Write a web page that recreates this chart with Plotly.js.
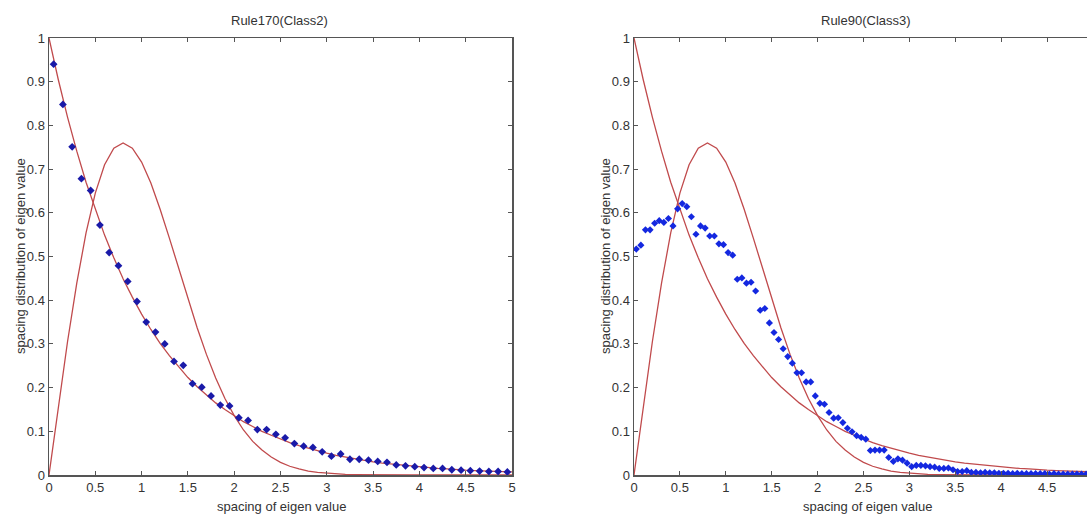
<!DOCTYPE html>
<html>
<head>
<meta charset="utf-8">
<script src="https://cdn.plot.ly/plotly-3.0.1.min.js"></script>
<style>
html,body{margin:0;padding:0;overflow:hidden;background:#fff;}
#chart{width:1100px;height:514px;}
</style>
</head>
<body>
<div id="chart"></div>
<script>
// ---- data ----
const panelTitles = ["Rule170(Class2)", "Rule90(Class3)"];
const xAxisTitle = "spacing of eigen value";
const yAxisTitle = "spacing distribution of eigen value";
const xTickVals = [0,0.5,1,1.5,2,2.5,3,3.5,4,4.5,5];
const xTickValsRight = [0,0.5,1,1.5,2,2.5,3,3.5,4,4.5];

// theoretical curves (Poisson & Wigner) sampled at 0.1
const sCurve = [0,0.1,0.2,0.3,0.4,0.5,0.6,0.7,0.8,0.9,1.0,1.1,1.2,1.3,1.4,1.5,1.6,1.7,1.8,1.9,2.0,2.1,2.2,2.3,2.4,2.5,2.6,2.7,2.8,2.9,3.0,3.1,3.2,3.3,3.4,3.5,3.6,3.7,3.8,3.9,4.0,4.1,4.2,4.3,4.4,4.5,4.6,4.7,4.8,4.9,5.0];
const poisson = [1,0.905,0.819,0.741,0.670,0.607,0.549,0.497,0.449,0.407,0.368,0.333,0.301,0.273,0.247,0.223,0.202,0.183,0.165,0.150,0.135,0.122,0.111,0.100,0.091,0.082,0.074,0.067,0.061,0.055,0.050,0.045,0.041,0.037,0.033,0.030,0.027,0.025,0.022,0.020,0.018,0.017,0.015,0.014,0.012,0.011,0.010,0.009,0.008,0.007,0.007];
const wigner = [0,0.156,0.305,0.439,0.554,0.645,0.710,0.748,0.760,0.748,0.716,0.668,0.608,0.542,0.472,0.402,0.337,0.276,0.222,0.175,0.136,0.103,0.077,0.057,0.041,0.029,0.020,0.014,0.009,0.006,0.004,0.0025,0.0016,0.001,0.0006,0.0004,0.0002,0.0001,0.0001,0,0,0,0,0,0,0,0,0,0,0,0];

// Rule170 measured points
const sLeft = [0.05,0.15,0.25,0.35,0.45,0.55,0.65,0.75,0.85,0.95,1.05,1.15,1.25,1.35,1.45,1.55,1.65,1.75,1.85,1.95,2.05,2.15,2.25,2.35,2.45,2.55,2.65,2.75,2.85,2.95,3.05,3.15,3.25,3.35,3.45,3.55,3.65,3.75,3.85,3.95,4.05,4.15,4.25,4.35,4.45,4.55,4.65,4.75,4.85,4.95];
const pLeft = [0.940,0.848,0.751,0.678,0.651,0.572,0.509,0.479,0.443,0.397,0.350,0.327,0.300,0.260,0.251,0.209,0.201,0.181,0.160,0.158,0.131,0.125,0.104,0.104,0.093,0.085,0.072,0.066,0.063,0.053,0.043,0.048,0.036,0.036,0.034,0.031,0.029,0.023,0.021,0.019,0.017,0.015,0.015,0.012,0.011,0.010,0.009,0.008,0.008,0.007];

// Rule90 measured points
const sRight = [0.025,0.075,0.125,0.175,0.225,0.275,0.325,0.375,0.425,0.475,0.525,0.575,0.625,0.675,0.725,0.775,0.825,0.875,0.925,0.975,1.025,1.075,1.125,1.175,1.225,1.275,1.325,1.375,1.425,1.475,1.525,1.575,1.625,1.675,1.725,1.775,1.825,1.875,1.925,1.975,2.025,2.075,2.125,2.175,2.225,2.275,2.325,2.375,2.425,2.475,2.525,2.575,2.625,2.675,2.725,2.775,2.825,2.875,2.925,2.975,3.025,3.075,3.125,3.175,3.225,3.275,3.325,3.375,3.425,3.475,3.525,3.575,3.625,3.675,3.725,3.775,3.825,3.875,3.925,3.975,4.025,4.075,4.125,4.175,4.225,4.275,4.325,4.375,4.425,4.475,4.525,4.575,4.625,4.675,4.725,4.775,4.825,4.875,4.925,4.975];
const pRight = [0.517,0.526,0.561,0.561,0.576,0.582,0.578,0.587,0.570,0.609,0.621,0.614,0.591,0.551,0.570,0.565,0.547,0.547,0.529,0.527,0.509,0.503,0.448,0.451,0.439,0.441,0.421,0.377,0.381,0.348,0.326,0.310,0.289,0.271,0.256,0.234,0.234,0.213,0.213,0.181,0.164,0.162,0.143,0.130,0.131,0.120,0.107,0.099,0.090,0.086,0.082,0.056,0.057,0.057,0.057,0.040,0.031,0.037,0.034,0.027,0.019,0.022,0.022,0.021,0.019,0.018,0.015,0.015,0.016,0.012,0.008,0.008,0.010,0.006,0.006,0.005,0.006,0.005,0.005,0.004,0.004,0.004,0.003,0.004,0.003,0.003,0.003,0.003,0.003,0.003,0.002,0.003,0.002,0.002,0.002,0.002,0.002,0.002,0.002,0.002];

// ---- styles ----
const W = 1100, H = 514;
const red = '#c04a4c';
const font = 'Liberation Sans Narrow, Liberation Sans, Arial Narrow, sans-serif';

function curveTrace(y, xa, ya) {
  return {x: sCurve, y: y, xaxis: xa, yaxis: ya, mode: 'lines', type: 'scatter',
          line: {color: red, width: 1.3}, hoverinfo: 'skip', showlegend: false};
}
function pointTrace(x, y, xa, ya, col, sz) {
  return {x: x, y: y, xaxis: xa, yaxis: ya, mode: 'markers', type: 'scatter',
          marker: {symbol: 'diamond', size: sz, color: col}, showlegend: false};
}

const traces = [
  curveTrace(poisson, 'x', 'y'), curveTrace(wigner, 'x', 'y'),
  pointTrace(sLeft, pLeft, 'x', 'y', '#1a1aa8', 6),
  curveTrace(poisson, 'x2', 'y2'), curveTrace(wigner, 'x2', 'y2'),
  pointTrace(sRight, pRight, 'x2', 'y2', '#1428e0', 5.5)
];

const tickFont = {family: font, size: 13, color: '#333'};
function xax(dom, anchor, tv) {
  return {domain: dom, anchor: anchor, range: [0, 5], tickmode: 'array', tickvals: tv,
          ticktext: tv.map(String),
          showline: true, linecolor: '#555', linewidth: 1.5, mirror: 'ticks',
          ticks: 'inside', ticklen: 4, tickcolor: '#555', showgrid: false, zeroline: false,
          tickfont: tickFont, fixedrange: true};
}
function yax(dom, anchor) {
  return {domain: dom, anchor: anchor, range: [0, 1], dtick: 0.1, tick0: 0,
          showline: true, linecolor: '#555', linewidth: 1.5, mirror: 'ticks',
          ticks: 'inside', ticklen: 4, tickcolor: '#555', showgrid: false, zeroline: false,
          tickfont: tickFont, fixedrange: true};
}

const yDom = [(H - 475) / H, (H - 38) / H];
const x1Dom = [49 / W, 512 / W];
const x2Dom = [634 / W, 1093 / W];

const annFont = {family: font, size: 13, color: '#333'};
function ann(text, px, py, angle) {
  return {text: text, x: px / W, y: (H - py) / H, xref: 'paper', yref: 'paper',
          xanchor: 'center', yanchor: 'middle', showarrow: false, textangle: angle || 0, font: annFont};
}
const annotations = [
  ann(panelTitles[0], 280, 21),
  ann(panelTitles[1], 866, 21),
  ann(xAxisTitle, 281, 506),
  ann(xAxisTitle, 867, 506),
  ann(yAxisTitle, 20, 256, -90),
  ann(yAxisTitle, 605, 256, -90)
];

const layout = {
  width: W, height: H,
  margin: {l: 0, r: 0, t: 0, b: 0},
  paper_bgcolor: '#fff', plot_bgcolor: '#fff',
  showlegend: false,
  xaxis: xax(x1Dom, 'y', xTickVals), yaxis: yax(yDom, 'x'),
  xaxis2: xax(x2Dom, 'y2', xTickValsRight), yaxis2: yax(yDom, 'x2'),
  annotations: annotations
};

Plotly.newPlot('chart', traces, layout, {displayModeBar: false, staticPlot: true});
</script>
</body>
</html>
